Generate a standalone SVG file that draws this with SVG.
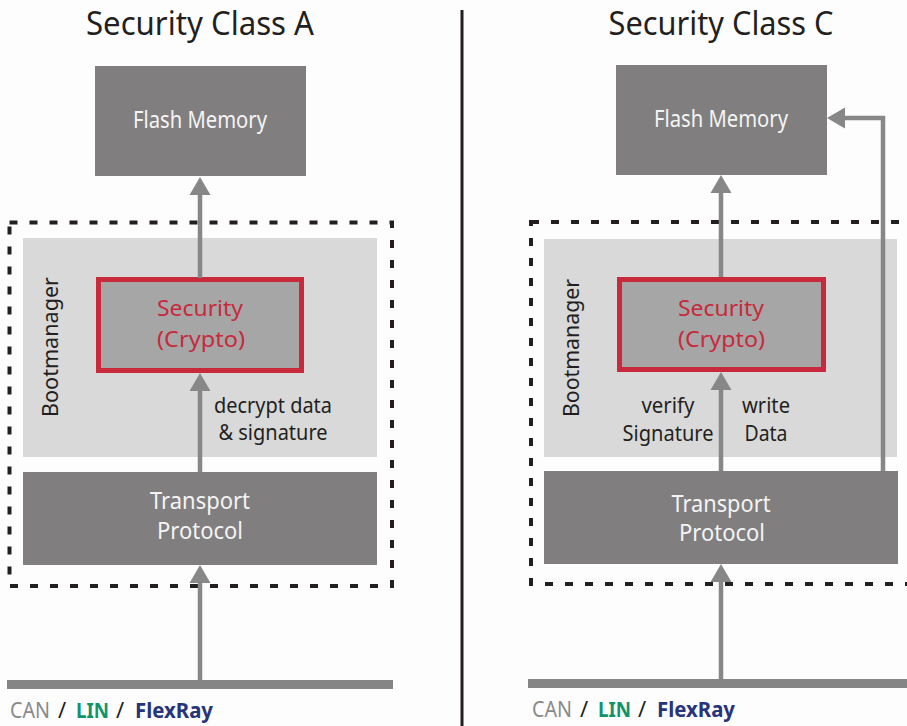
<svg xmlns="http://www.w3.org/2000/svg" width="907" height="726" viewBox="0 0 907 726">
  <style>
    .title { font-family: "Noto Sans", "Open Sans", sans-serif; font-size: 32px; fill: #231f20; text-anchor: middle; }
    .box { fill: #807e7f; }
    .boxText { font-family: "Noto Sans", "Open Sans", sans-serif; font-size: 23px; fill: #f4f4f4; text-anchor: middle; }
    .mgr { fill: #d9d9d9; }
    .mgrText { font-family: "Noto Sans", "Open Sans", sans-serif; font-size: 22px; fill: #231f20; text-anchor: middle; }
    .sec { fill: #a6a6a6; stroke: #c8293b; stroke-width: 5; }
    .secText { font-family: "Noto Sans", "Open Sans", sans-serif; font-size: 22.5px; fill: #c8293b; text-anchor: middle; }
    .label { font-family: "Noto Sans", "Open Sans", sans-serif; font-size: 21px; fill: #231f20; text-anchor: middle; }
    .dash { fill: none; stroke: #231f20; stroke-width: 4; stroke-dasharray: 8 12; }
    .wire { fill: none; stroke: #878787; stroke-width: 4.5; marker-end: url(#ah); }
    .bus { fill: #858585; }
    .busText { font-family: "Noto Sans", "Open Sans", sans-serif; font-size: 22px; }
    .can { fill: #8a8a8a; }
    .slash { fill: #231f20; }
    .lin { fill: #12936a; font-weight: bold; }
    .flex { fill: #26347b; font-weight: bold; }
  </style>
  <defs>
    <marker id="ah" markerUnits="userSpaceOnUse" markerWidth="18" markerHeight="22" viewBox="0 -11 18 22" refX="0" refY="0" orient="auto">
      <path d="M0,-10.5 L18,0 L0,10.5 z" fill="#878787"/>
    </marker>
  </defs>

  <rect width="907" height="726" fill="#fdfdfd"/>

  <!-- divider between the two variants -->
  <line x1="462" y1="10" x2="462" y2="726" stroke="#231f20" stroke-width="3"/>

  <!-- ===== Security Class A ===== -->
  <text class="title" x="200" y="35" textLength="228" lengthAdjust="spacingAndGlyphs">Security Class A</text>

  <g id="a-ecu-boundary">
    <rect class="dash" x="9.5" y="222.5" width="382.5" height="363.5"/>
  </g>
  <g id="a-bootmanager">
    <rect class="mgr" x="23" y="238" width="354" height="219"/>
    <text class="mgrText" transform="translate(58,347) rotate(-90)" textLength="140" lengthAdjust="spacingAndGlyphs">Bootmanager</text>
  </g>
  <g id="a-flash">
    <rect class="box" x="95" y="66" width="211" height="110"/>
    <text class="boxText" x="200" y="128" textLength="134" lengthAdjust="spacingAndGlyphs">Flash Memory</text>
  </g>
  <g id="a-security">
    <rect class="sec" x="98.5" y="279.5" width="203" height="91"/>
    <text class="secText" x="200" y="316" textLength="86" lengthAdjust="spacingAndGlyphs">Security</text>
    <text class="secText" x="201" y="347" textLength="88" lengthAdjust="spacingAndGlyphs">(Crypto)</text>
  </g>
  <g id="a-transport">
    <rect class="box" x="23" y="472" width="354" height="93"/>
    <text class="boxText" x="200" y="509" textLength="100" lengthAdjust="spacingAndGlyphs">Transport</text>
    <text class="boxText" x="200" y="539" textLength="86" lengthAdjust="spacingAndGlyphs">Protocol</text>
  </g>
  <g id="a-bus">
    <rect class="bus" x="7" y="680" width="386" height="9"/>
    <text class="busText" y="718"><tspan class="can" x="10" textLength="40" lengthAdjust="spacingAndGlyphs">CAN</tspan><tspan class="slash" x="58">/</tspan><tspan class="lin" x="76" textLength="33" lengthAdjust="spacingAndGlyphs">LIN</tspan><tspan class="slash" x="116">/</tspan><tspan class="flex" x="135" textLength="78" lengthAdjust="spacingAndGlyphs">FlexRay</tspan></text>
  </g>
  <text class="label" x="273" y="413" textLength="118" lengthAdjust="spacingAndGlyphs">decrypt data</text>
  <text class="label" x="273" y="440" textLength="109" lengthAdjust="spacingAndGlyphs">&amp; signature</text>

  <!-- ===== Security Class C ===== -->
  <text class="title" x="721" y="35" textLength="225" lengthAdjust="spacingAndGlyphs">Security Class C</text>

  <g id="c-ecu-boundary">
    <rect class="dash" x="531" y="222" width="400" height="362"/>
  </g>
  <g id="c-bootmanager">
    <rect class="mgr" x="544" y="239" width="353" height="218"/>
    <text class="mgrText" transform="translate(579,348) rotate(-90)" textLength="138" lengthAdjust="spacingAndGlyphs">Bootmanager</text>
  </g>
  <g id="c-flash">
    <rect class="box" x="616" y="65" width="211" height="110"/>
    <text class="boxText" x="721" y="127" textLength="134" lengthAdjust="spacingAndGlyphs">Flash Memory</text>
  </g>
  <g id="c-security">
    <rect class="sec" x="619.5" y="279.5" width="204" height="90"/>
    <text class="secText" x="721" y="316" textLength="86" lengthAdjust="spacingAndGlyphs">Security</text>
    <text class="secText" x="721.5" y="347" textLength="87" lengthAdjust="spacingAndGlyphs">(Crypto)</text>
  </g>
  <g id="c-transport">
    <rect class="box" x="544" y="471" width="354" height="93"/>
    <text class="boxText" x="721" y="512" textLength="99" lengthAdjust="spacingAndGlyphs">Transport</text>
    <text class="boxText" x="722" y="541" textLength="86" lengthAdjust="spacingAndGlyphs">Protocol</text>
  </g>
  <g id="c-bus">
    <rect class="bus" x="528" y="679" width="379" height="9"/>
    <text class="busText" y="717"><tspan class="can" x="532" textLength="40" lengthAdjust="spacingAndGlyphs">CAN</tspan><tspan class="slash" x="580">/</tspan><tspan class="lin" x="598" textLength="33" lengthAdjust="spacingAndGlyphs">LIN</tspan><tspan class="slash" x="638">/</tspan><tspan class="flex" x="657" textLength="78" lengthAdjust="spacingAndGlyphs">FlexRay</tspan></text>
  </g>
  <text class="label" x="668" y="413" textLength="53" lengthAdjust="spacingAndGlyphs">verify</text>
  <text class="label" x="668" y="441" textLength="91" lengthAdjust="spacingAndGlyphs">Signature</text>
  <text class="label" x="766" y="413" textLength="48" lengthAdjust="spacingAndGlyphs">write</text>
  <text class="label" x="766" y="441" textLength="43" lengthAdjust="spacingAndGlyphs">Data</text>

  <!-- data flow arrows -->
  <g id="connectors">
    <path class="wire" d="M200,680 V583"/>
    <path class="wire" d="M200,472 V391"/>
    <path class="wire" d="M200,278 V195"/>
    <path class="wire" d="M721,679 V582"/>
    <path class="wire" d="M721,471 V390"/>
    <path class="wire" d="M721,277 V193"/>
    <path class="wire" d="M883,471 V118 H845"/>
  </g>
</svg>
